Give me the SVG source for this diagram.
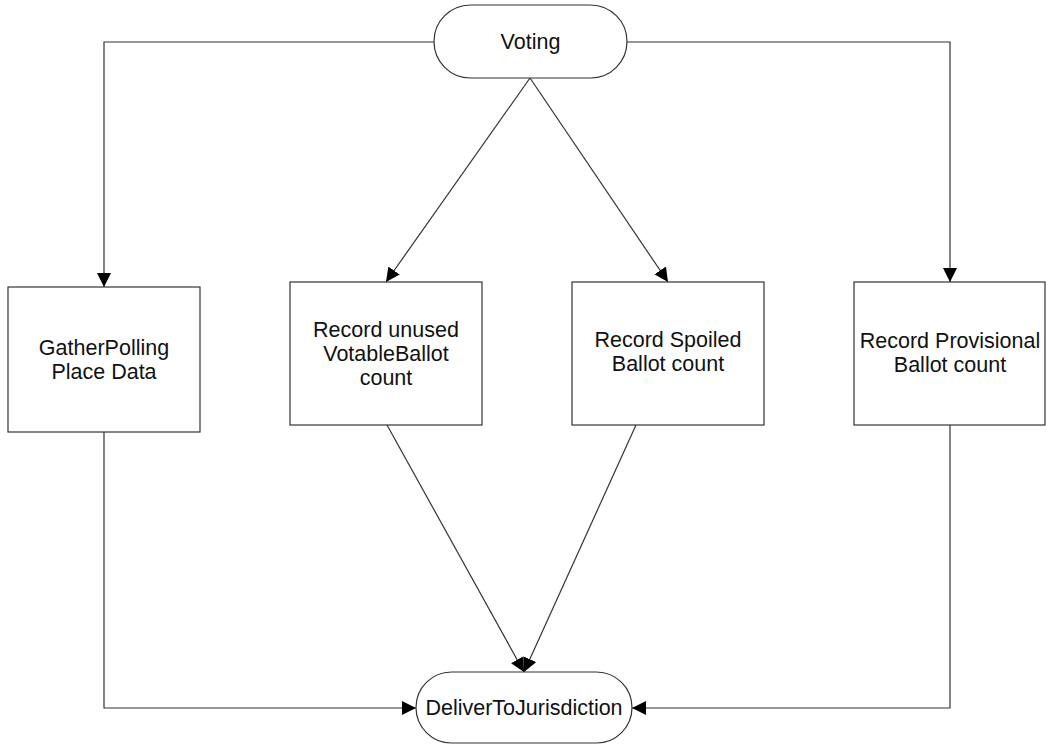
<svg xmlns="http://www.w3.org/2000/svg" width="1046" height="744" viewBox="0 0 1046 744">
<style>
.shape{fill:#ffffff;stroke:#333333;stroke-width:1.2}
.conn{fill:none;stroke:#333333;stroke-width:1.2}
text{font-family:"Liberation Sans",Arial,sans-serif;font-size:21.5px;fill:#111111;text-anchor:middle}
</style>
<defs>
<marker id="arrow" viewBox="0 0 14 14" refX="14" refY="7" markerWidth="14" markerHeight="14" markerUnits="userSpaceOnUse" orient="auto">
<path d="M0,0 L14,7 L0,14 Z" fill="#000000"/>
</marker>
</defs>
<rect width="1046" height="744" fill="#ffffff"/>
<g id="connectors">
<path class="conn" d="M434,42 H104 V287" marker-end="url(#arrow)"/>
<path class="conn" d="M627,42 H950 V282" marker-end="url(#arrow)"/>
<path class="conn" d="M530,78 L386,282" marker-end="url(#arrow)"/>
<path class="conn" d="M530,78 L668,282" marker-end="url(#arrow)"/>
<path class="conn" d="M387,425 L524,672" marker-end="url(#arrow)"/>
<path class="conn" d="M636,425 L524,672" marker-end="url(#arrow)"/>
<path class="conn" d="M104,432 V708 H416" marker-end="url(#arrow)"/>
<path class="conn" d="M950,425 V708 H632" marker-end="url(#arrow)"/>
</g>
<g id="voting">
<rect class="shape" x="434" y="5" width="193" height="73" rx="36.5" ry="36.5"/>
<text x="530.5" y="49">Voting</text>
</g>
<g id="gather">
<rect class="shape" x="8" y="287" width="192" height="145"/>
<text x="104" y="355">GatherPolling</text>
<text x="104" y="379">Place Data</text>
</g>
<g id="unused">
<rect class="shape" x="290" y="282" width="192" height="143"/>
<text x="386" y="337">Record unused</text>
<text x="386" y="361">VotableBallot</text>
<text x="386" y="385">count</text>
</g>
<g id="spoiled">
<rect class="shape" x="572" y="282" width="192" height="143"/>
<text x="668" y="347">Record Spoiled</text>
<text x="668" y="371">Ballot count</text>
</g>
<g id="provisional">
<rect class="shape" x="854" y="282" width="191" height="143"/>
<text x="950" y="348">Record Provisional</text>
<text x="950" y="372">Ballot count</text>
</g>
<g id="deliver">
<rect class="shape" x="416" y="672" width="216" height="71" rx="35.5" ry="35.5"/>
<text x="524" y="715">DeliverToJurisdiction</text>
</g>
</svg>
